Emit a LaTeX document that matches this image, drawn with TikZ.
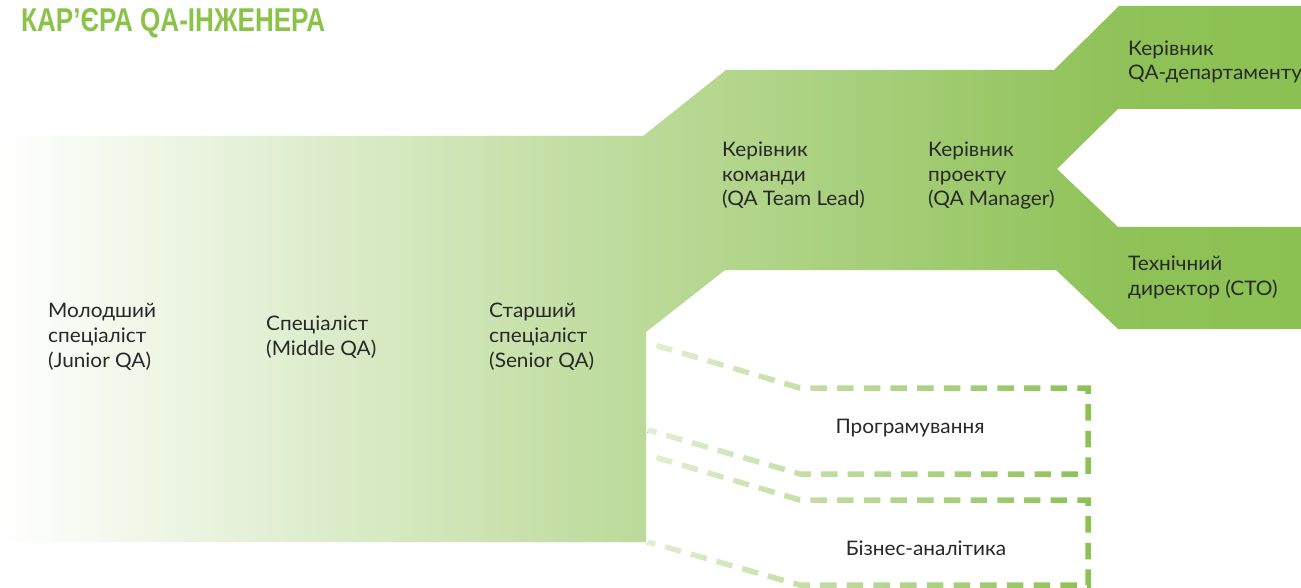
\documentclass[tikz,border=0pt]{standalone}
\usepackage{fontspec}
\setmainfont{Lato}[FakeStretch=1.04]
\newfontfamily\titlefont{Liberation Sans}
\usetikzlibrary{fadings}
\definecolor{qagreen}{RGB}{139,193,82}
\definecolor{titlegreen}{RGB}{139,195,74}
\definecolor{gA}{RGB}{187,218,152}
\definecolor{gB}{RGB}{143,194,88}
\definecolor{txt}{RGB}{40,40,40}
\tikzfading[name=dashfade, left color=transparent!25, right color=transparent!100]
\begin{document}
\begin{tikzpicture}[x=1pt,y=-1pt,
  lbl/.style={font=\fontsize{20}{24.6}\selectfont, text=txt, align=left, inner sep=0pt, anchor=base west},
  boxlbl/.style={font=\fontsize{20}{24.6}\selectfont, text=txt, inner sep=0pt},
  dashline/.style={qagreen, line width=5.5pt, dash pattern=on 16.5pt off 10.2pt, dash phase=18}]
\useasboundingbox (0,0) rectangle (1301,588);
% main career shape
\begin{scope}
\clip (0,136) -- (643,136) -- (726,70) -- (1054,70) -- (1119,6) -- (1302,6) -- (1302,109)
  -- (1118,109) -- (1057,169) -- (1118,227) -- (1302,227) -- (1302,329) -- (1118,329)
  -- (1056,270) -- (725,270) -- (646,332) -- (646,542) -- (0,542) -- cycle;
\shade[left color=white, right color=gA] (-1,0) rectangle (646,588);
\shade[left color=gA, right color=gB] (645,0) rectangle (1119,588);
\shade[left color=gB, right color=qagreen] (1118,0) rectangle (1302,588);
\end{scope}
% dashed alternative paths
\coordinate (a1) at (648,343);
\coordinate (a2) at (800,388);
\coordinate (a3) at (1088,388);
\coordinate (a4) at (1088,474);
\coordinate (a5) at (800,474);
\coordinate (a6) at (648,430);
\coordinate (b1) at (648,455);
\coordinate (b2) at (800,500);
\coordinate (b3) at (1088,500);
\coordinate (b4) at (1088,585);
\coordinate (b5) at (800,585);
\coordinate (b6) at (648,542);
\draw[dashline] (a1) -- (a2) -- (a3) -- (a4) -- (a5) -- (a6);
\draw[dashline] (b1) -- (b2) -- (b3) -- (b4) -- (b5) -- (b6);
\fill[white, path fading=dashfade] (648,336) rectangle (1096,588);
% title
\node[anchor=base west, font=\titlefont\bfseries\fontsize{33}{33}\selectfont, text=titlegreen, xscale=0.79, inner sep=0pt] (title) at (21,31.7) {КАР’ЄРА QA-ІНЖЕНЕРА};
% labels (base anchor = baseline of last line)
\node[lbl] (junior) at (48,367) {Молодший\\спеціаліст\\(Junior QA)};
\node[lbl] (middle) at (266,355) {Спеціаліст\\(Middle QA)};
\node[lbl] (senior) at (489,367) {Старший\\спеціаліст\\(Senior QA)};
\node[lbl] (lead) at (722,206) {Керівник\\команди\\(QA Team Lead)};
\node[lbl] (manager) at (928,206) {Керівник\\проекту\\(QA Manager)};
\node[lbl] (dept) at (1128,80) {Керівник\\QA-департаменту};
\node[lbl] (cto) at (1128,295) {Технічний\\директор (СТО)};
\node[boxlbl] (prog) at (910,428) {Програмування};
\node[boxlbl] (ba) at (926,548) {Бізнес-аналітика};
\end{tikzpicture}
\end{document}
